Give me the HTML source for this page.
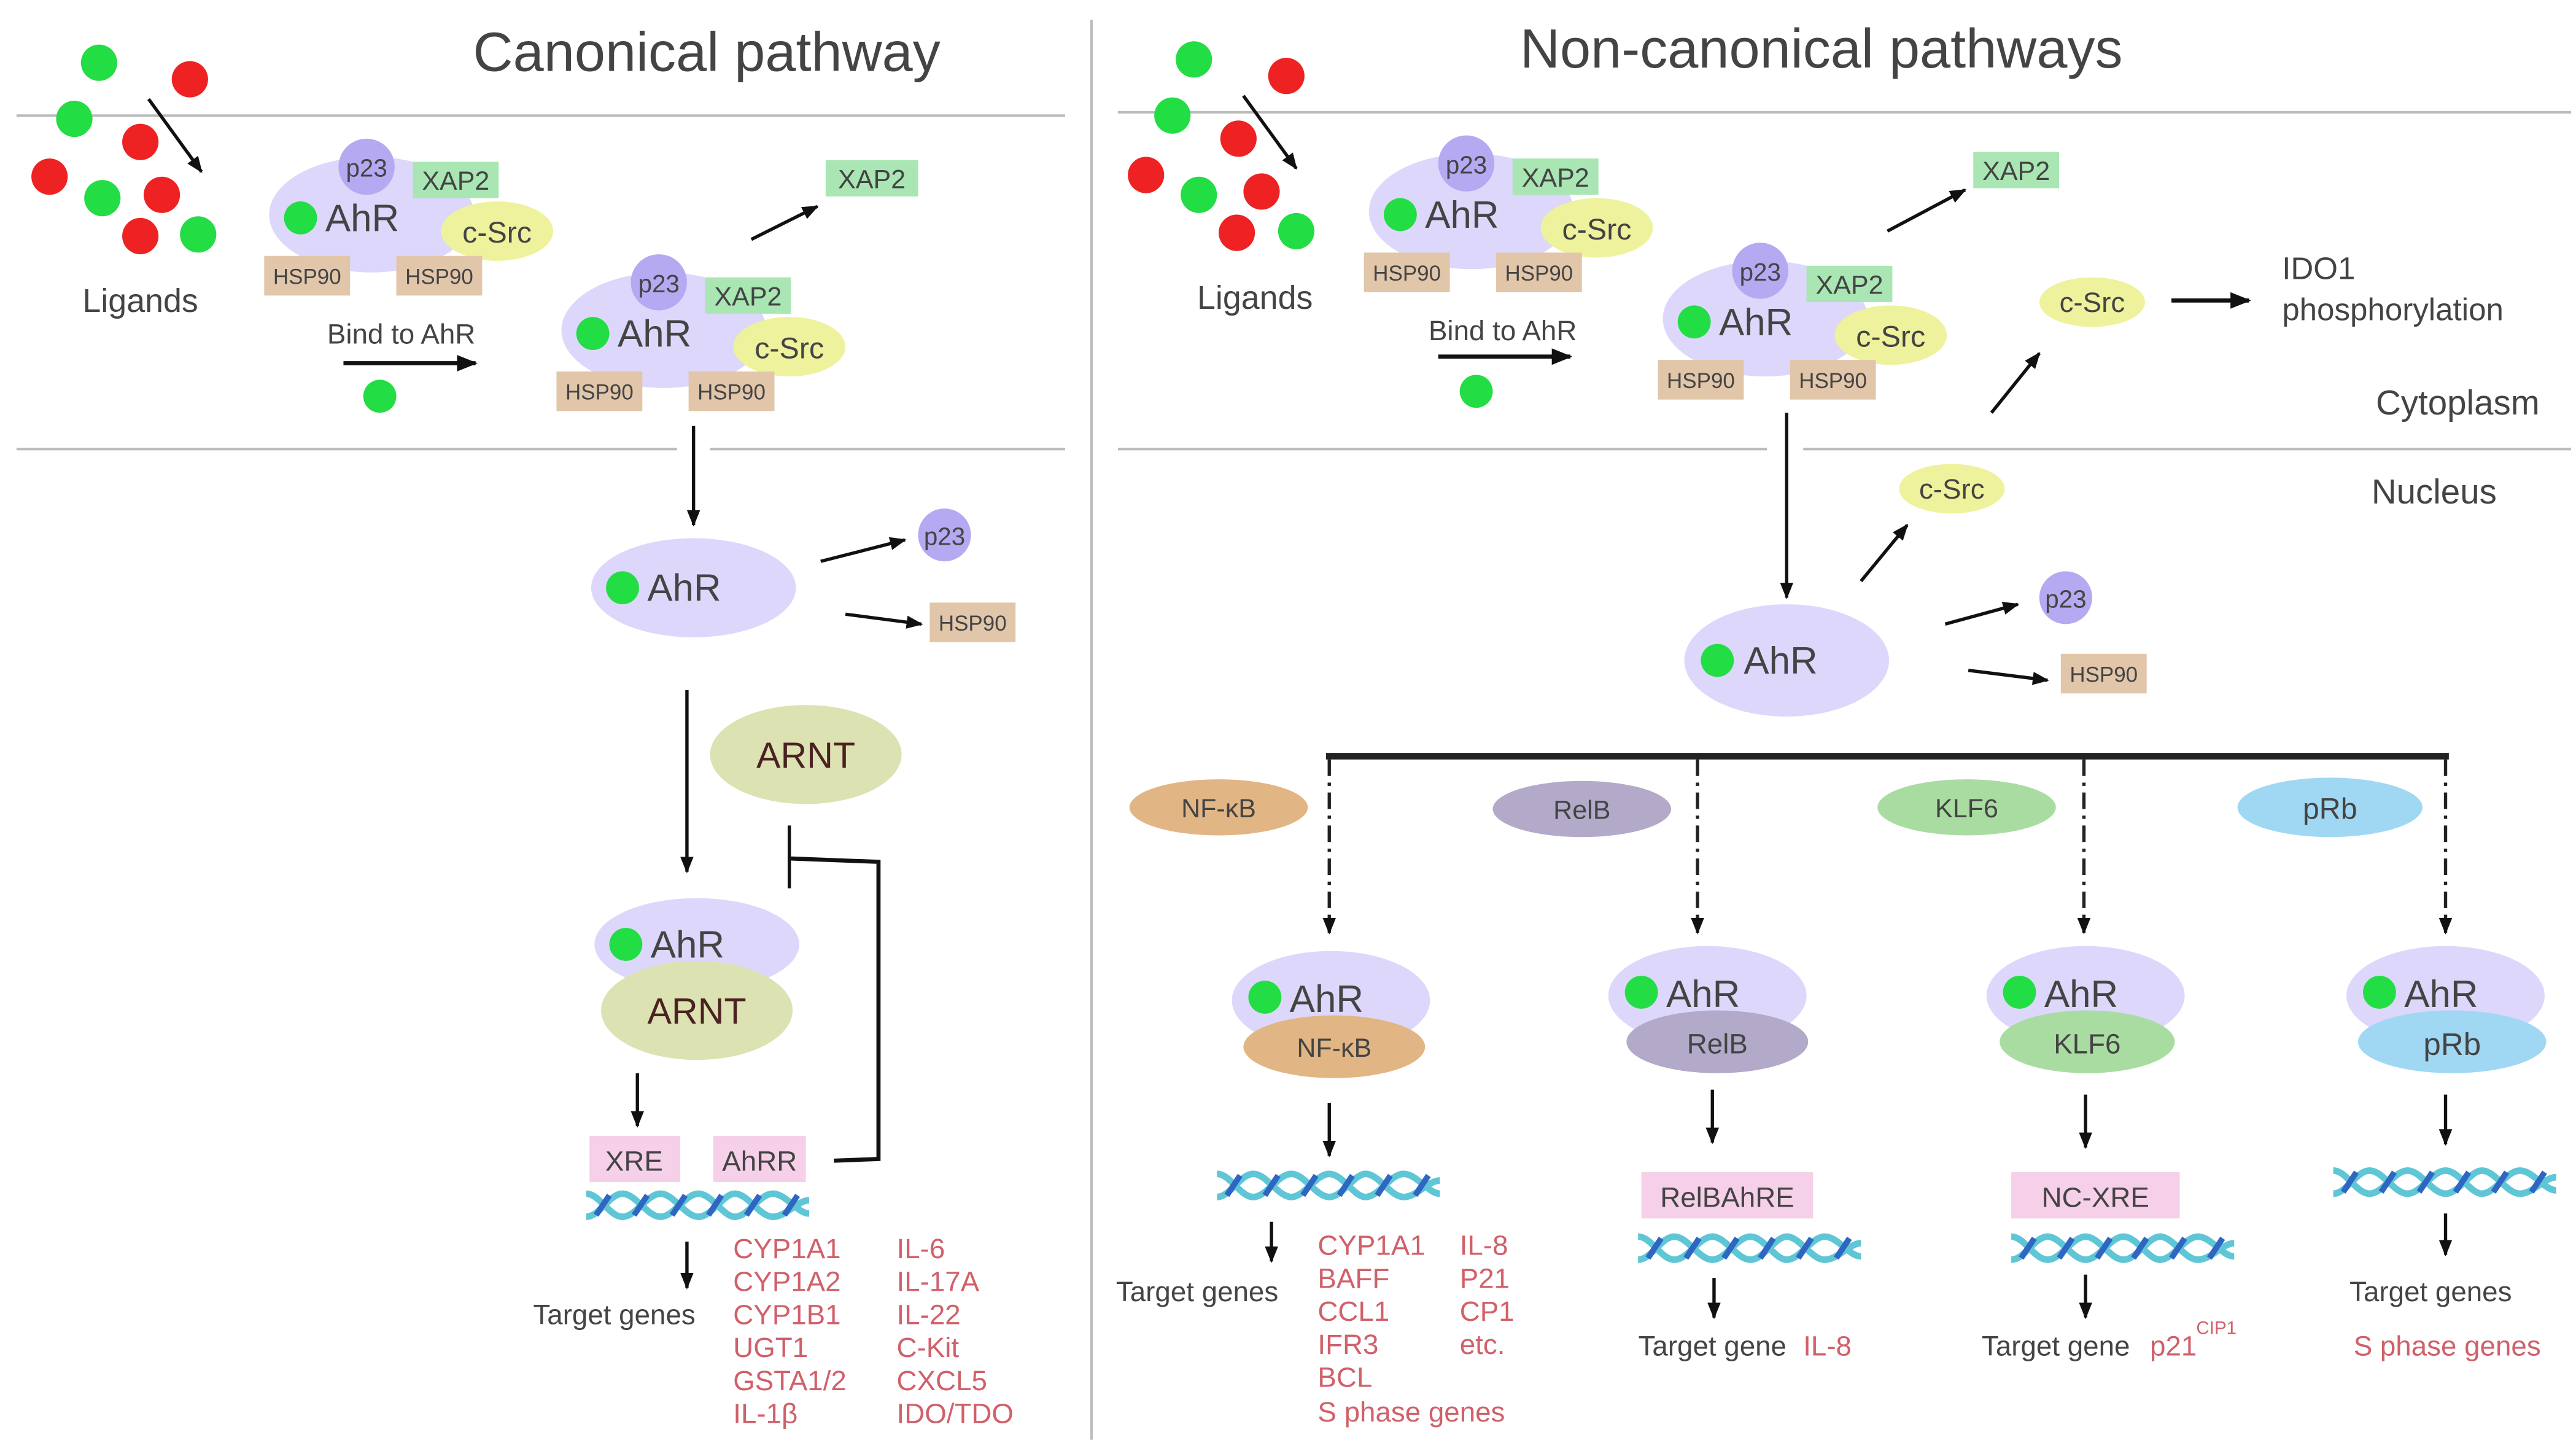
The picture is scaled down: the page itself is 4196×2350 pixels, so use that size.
<!DOCTYPE html>
<html><head><meta charset="utf-8"><style>
html,body{margin:0;padding:0;background:#fff;}
svg{display:block;}
text{font-family:"Liberation Sans",sans-serif;fill:#444;}
.r{fill:#d0606a;font-size:17px;}
</style></head><body>
<svg width="4196" height="2350" viewBox="0 0 1560 874" preserveAspectRatio="none" xmlns="http://www.w3.org/2000/svg">
<defs>
<marker id="a" viewBox="0 0 10 10" refX="9" refY="5" markerWidth="5" markerHeight="5" orient="auto"><path d="M0,1 L10,5 L0,9 z" fill="#111"/></marker>
<g id="dna">
<path d="M0,2 C8,2 14,16 22,16 C30,16 37,2 45,2 C53,2 60,16 68,16 C76,16 83,2 90,2 C98,2 105,16 113,16 C121,16 128,6 135,6" fill="none" stroke="#5fc6d6" stroke-width="4"/>
<path d="M0,16 C8,16 14,2 22,2 C30,2 37,16 45,16 C53,16 60,2 68,2 C76,2 83,16 90,16 C98,16 105,2 113,2 C121,2 128,14 135,14" fill="none" stroke="#5fc6d6" stroke-width="4"/>
<path d="M6,15 L14,3 M29,15 L37,3 M52,15 L60,3 M74,15 L82,3 M97,15 L105,3 M120,15 L128,3" stroke="#2f66c2" stroke-width="3.5"/>
</g>
<g id="cx">
<ellipse cx="0" cy="0" rx="62" ry="35" fill="#dcd7fb"/>
<circle cx="-3" cy="-29" r="17" fill="#b5a9f2"/>
<text x="-3" y="-23" font-size="15" text-anchor="middle">p23</text>
<rect x="25" y="-32" width="52" height="22" fill="#a9e6b3"/>
<text x="51" y="-15" font-size="16" text-anchor="middle">XAP2</text>
<ellipse cx="76" cy="10" rx="34" ry="18" fill="#eef29c"/>
<text x="76" y="17" font-size="18" text-anchor="middle">c-Src</text>
<circle cx="-43" cy="2" r="10" fill="#22dd44"/>
<text x="-28" y="10" font-size="23">AhR</text>
<rect x="-65" y="25" width="52" height="24" fill="#e2c6aa"/>
<text x="-39" y="42" font-size="13" text-anchor="middle">HSP90</text>
<rect x="15" y="25" width="52" height="24" fill="#e2c6aa"/>
<text x="41" y="42" font-size="13" text-anchor="middle">HSP90</text>
</g>
</defs>
<g stroke="#bbb" stroke-width="1.5">
<line x1="10" y1="70" x2="645" y2="70"/><line x1="10" y1="272" x2="410" y2="272"/><line x1="430" y1="272" x2="645" y2="272"/>
<line x1="677" y1="68" x2="1557" y2="68"/><line x1="677" y1="272" x2="1070" y2="272"/><line x1="1092" y1="272" x2="1557" y2="272"/>
<line x1="661" y1="12" x2="661" y2="872"/>
</g>
<text x="428" y="43" font-size="33.5" text-anchor="middle">Canonical pathway</text>
<text x="1103" y="41" font-size="33.5" text-anchor="middle">Non-canonical pathways</text>
<!-- left ligands -->
<g fill="#22dd44"><circle cx="60" cy="38" r="11"/><circle cx="45" cy="72" r="11"/><circle cx="62" cy="120" r="11"/><circle cx="120" cy="142" r="11"/><circle cx="230" cy="240" r="10"/></g>
<g fill="#ee2222"><circle cx="115" cy="48" r="11"/><circle cx="85" cy="86" r="11"/><circle cx="30" cy="107" r="11"/><circle cx="98" cy="118" r="11"/><circle cx="85" cy="143" r="11"/></g>
<line x1="90" y1="60" x2="122" y2="104" stroke="#111" stroke-width="2" marker-end="url(#a)"/>
<text x="85" y="189" font-size="20" text-anchor="middle">Ligands</text>
<use href="#cx" x="225" y="130"/>
<text x="243" y="208" font-size="17" text-anchor="middle">Bind to AhR</text>
<line x1="208" y1="220" x2="288" y2="220" stroke="#111" stroke-width="2.5" marker-end="url(#a)"/>
<use href="#cx" x="402" y="200"/>
<line x1="455" y1="145" x2="495" y2="125" stroke="#111" stroke-width="2" marker-end="url(#a)"/>
<rect x="500" y="97" width="56" height="22" fill="#a9e6b3"/><text x="528" y="114" font-size="16" text-anchor="middle">XAP2</text>
<line x1="420" y1="258" x2="420" y2="318" stroke="#111" stroke-width="2" marker-end="url(#a)"/>
<ellipse cx="420" cy="356" rx="62" ry="30" fill="#dcd7fb"/><circle cx="377" cy="356" r="10" fill="#22dd44"/><text x="392" y="364" font-size="23">AhR</text>
<line x1="497" y1="340" x2="548" y2="327" stroke="#111" stroke-width="2" marker-end="url(#a)"/>
<circle cx="572" cy="324" r="16" fill="#b5a9f2"/><text x="572" y="330" font-size="15" text-anchor="middle">p23</text>
<line x1="512" y1="372" x2="558" y2="378" stroke="#111" stroke-width="2" marker-end="url(#a)"/>
<rect x="563" y="365" width="52" height="24" fill="#e2c6aa"/><text x="589" y="382" font-size="13" text-anchor="middle">HSP90</text>
<line x1="416" y1="418" x2="416" y2="528" stroke="#111" stroke-width="2" marker-end="url(#a)"/>
<ellipse cx="488" cy="457" rx="58" ry="30" fill="#dde2b2"/><text x="488" y="465" font-size="22" text-anchor="middle" style="fill:#4a2222">ARNT</text>
<ellipse cx="422" cy="572" rx="62" ry="28" fill="#dcd7fb"/><circle cx="379" cy="572" r="10" fill="#22dd44"/><text x="394" y="580" font-size="23">AhR</text>
<ellipse cx="422" cy="612" rx="58" ry="30" fill="#dde2b2"/><text x="422" y="620" font-size="22" text-anchor="middle" style="fill:#4a2222">ARNT</text>
<line x1="386" y1="650" x2="386" y2="682" stroke="#111" stroke-width="2" marker-end="url(#a)"/>
<rect x="357" y="688" width="55" height="28" fill="#f5d0e8"/><text x="384" y="709" font-size="17" text-anchor="middle">XRE</text>
<rect x="432" y="688" width="56" height="28" fill="#f5d0e8"/><text x="460" y="709" font-size="17" text-anchor="middle">AhRR</text>
<path d="M505,703 L532,702 L532,522 L479,520" fill="none" stroke="#111" stroke-width="2.5"/>
<line x1="478" y1="500" x2="478" y2="538" stroke="#111" stroke-width="2"/>
<use href="#dna" x="355" y="721"/>
<line x1="416" y1="752" x2="416" y2="780" stroke="#111" stroke-width="2" marker-end="url(#a)"/>
<text x="372" y="802" font-size="17" text-anchor="middle">Target genes</text>
<text x="444" y="762" class="r">CYP1A1</text><text x="444" y="782" class="r">CYP1A2</text><text x="444" y="802" class="r">CYP1B1</text><text x="444" y="822" class="r">UGT1</text><text x="444" y="842" class="r">GSTA1/2</text><text x="444" y="862" class="r">IL-1β</text>
<text x="543" y="762" class="r">IL-6</text><text x="543" y="782" class="r">IL-17A</text><text x="543" y="802" class="r">IL-22</text><text x="543" y="822" class="r">C-Kit</text><text x="543" y="842" class="r">CXCL5</text><text x="543" y="862" class="r">IDO/TDO</text>
<!-- right -->
<g fill="#22dd44"><circle cx="723" cy="36" r="11"/><circle cx="710" cy="70" r="11"/><circle cx="726" cy="118" r="11"/><circle cx="785" cy="140" r="11"/><circle cx="894" cy="237" r="10"/></g>
<g fill="#ee2222"><circle cx="779" cy="46" r="11"/><circle cx="750" cy="84" r="11"/><circle cx="694" cy="106" r="11"/><circle cx="764" cy="116" r="11"/><circle cx="749" cy="141" r="11"/></g>
<line x1="753" y1="58" x2="785" y2="102" stroke="#111" stroke-width="2" marker-end="url(#a)"/>
<text x="760" y="187" font-size="20" text-anchor="middle">Ligands</text>
<use href="#cx" x="891" y="128"/>
<text x="910" y="206" font-size="17" text-anchor="middle">Bind to AhR</text>
<line x1="871" y1="216" x2="951" y2="216" stroke="#111" stroke-width="2.5" marker-end="url(#a)"/>
<use href="#cx" x="1069" y="193"/>
<line x1="1143" y1="140" x2="1190" y2="115" stroke="#111" stroke-width="2" marker-end="url(#a)"/>
<rect x="1195" y="92" width="52" height="22" fill="#a9e6b3"/><text x="1221" y="109" font-size="16" text-anchor="middle">XAP2</text>
<ellipse cx="1267" cy="183" rx="32" ry="15" fill="#eef29c"/><text x="1267" y="189" font-size="17" text-anchor="middle">c-Src</text>
<line x1="1315" y1="182" x2="1362" y2="182" stroke="#111" stroke-width="2.5" marker-end="url(#a)"/>
<text x="1382" y="169" font-size="19">IDO1</text><text x="1382" y="194" font-size="19">phosphorylation</text>
<line x1="1206" y1="250" x2="1235" y2="214" stroke="#111" stroke-width="2" marker-end="url(#a)"/>
<text x="1538" y="251" font-size="21" text-anchor="end">Cytoplasm</text>
<text x="1512" y="305" font-size="21" text-anchor="end">Nucleus</text>
<line x1="1082" y1="250" x2="1082" y2="362" stroke="#111" stroke-width="2" marker-end="url(#a)"/>
<ellipse cx="1182" cy="296" rx="32" ry="15" fill="#eef29c"/><text x="1182" y="302" font-size="17" text-anchor="middle">c-Src</text>
<line x1="1127" y1="352" x2="1155" y2="318" stroke="#111" stroke-width="2" marker-end="url(#a)"/>
<ellipse cx="1082" cy="400" rx="62" ry="34" fill="#dcd7fb"/><circle cx="1040" cy="400" r="10" fill="#22dd44"/><text x="1056" y="408" font-size="23">AhR</text>
<line x1="1178" y1="378" x2="1222" y2="366" stroke="#111" stroke-width="2" marker-end="url(#a)"/>
<circle cx="1251" cy="362" r="16" fill="#b5a9f2"/><text x="1251" y="368" font-size="15" text-anchor="middle">p23</text>
<line x1="1192" y1="406" x2="1240" y2="412" stroke="#111" stroke-width="2" marker-end="url(#a)"/>
<rect x="1248" y="396" width="52" height="24" fill="#e2c6aa"/><text x="1274" y="413" font-size="13" text-anchor="middle">HSP90</text>
<line x1="803" y1="458" x2="1483" y2="458" stroke="#222" stroke-width="4"/>
<g stroke="#222" stroke-width="2" stroke-dasharray="10,4,2,4" marker-end="url(#a)">
<line x1="805" y1="460" x2="805" y2="565"/><line x1="1028" y1="460" x2="1028" y2="565"/><line x1="1262" y1="460" x2="1262" y2="565"/><line x1="1481" y1="460" x2="1481" y2="565"/>
</g>
<ellipse cx="738" cy="489" rx="54" ry="17" fill="#e2b584"/><text x="738" y="495" font-size="16" text-anchor="middle">NF-κB</text>
<ellipse cx="958" cy="490" rx="54" ry="17" fill="#b2aac8"/><text x="958" y="496" font-size="16" text-anchor="middle">RelB</text>
<ellipse cx="1191" cy="489" rx="54" ry="17" fill="#a9dca1"/><text x="1191" y="495" font-size="16" text-anchor="middle">KLF6</text>
<ellipse cx="1411" cy="489" rx="56" ry="18" fill="#a0d8f4"/><text x="1411" y="496" font-size="18" text-anchor="middle">pRb</text>
<ellipse cx="806" cy="606" rx="60" ry="30" fill="#dcd7fb"/><circle cx="766" cy="604" r="10" fill="#22dd44"/><text x="781" y="613" font-size="23">AhR</text>
<ellipse cx="808" cy="634" rx="55" ry="19" fill="#e2b584"/><text x="808" y="640" font-size="16" text-anchor="middle">NF-κB</text>
<ellipse cx="1034" cy="603" rx="60" ry="30" fill="#dcd7fb"/><circle cx="994" cy="601" r="10" fill="#22dd44"/><text x="1009" y="610" font-size="23">AhR</text>
<ellipse cx="1040" cy="631" rx="55" ry="19" fill="#b2aac8"/><text x="1040" y="638" font-size="17" text-anchor="middle">RelB</text>
<ellipse cx="1263" cy="603" rx="60" ry="30" fill="#dcd7fb"/><circle cx="1223" cy="601" r="10" fill="#22dd44"/><text x="1238" y="610" font-size="23">AhR</text>
<ellipse cx="1264" cy="631" rx="53" ry="19" fill="#a9dca1"/><text x="1264" y="638" font-size="17" text-anchor="middle">KLF6</text>
<ellipse cx="1481" cy="603" rx="60" ry="30" fill="#dcd7fb"/><circle cx="1441" cy="601" r="10" fill="#22dd44"/><text x="1456" y="610" font-size="23">AhR</text>
<ellipse cx="1485" cy="631" rx="57" ry="19" fill="#a0d8f4"/><text x="1485" y="639" font-size="19" text-anchor="middle">pRb</text>
<g stroke="#111" stroke-width="2" marker-end="url(#a)">
<line x1="805" y1="668" x2="805" y2="700"/><line x1="1037" y1="660" x2="1037" y2="692"/><line x1="1263" y1="663" x2="1263" y2="695"/><line x1="1481" y1="663" x2="1481" y2="693"/>
<line x1="770" y1="740" x2="770" y2="764"/><line x1="1038" y1="774" x2="1038" y2="798"/><line x1="1263" y1="772" x2="1263" y2="798"/><line x1="1481" y1="735" x2="1481" y2="760"/>
</g>
<use href="#dna" x="737" y="709"/>
<text x="725" y="788" font-size="17" text-anchor="middle">Target genes</text>
<text x="798" y="760" class="r">CYP1A1</text><text x="798" y="780" class="r">BAFF</text><text x="798" y="800" class="r">CCL1</text><text x="798" y="820" class="r">IFR3</text><text x="798" y="840" class="r">BCL</text><text x="798" y="861" class="r">S phase genes</text>
<text x="884" y="760" class="r">IL-8</text><text x="884" y="780" class="r">P21</text><text x="884" y="800" class="r">CP1</text><text x="884" y="820" class="r">etc.</text>
<rect x="994" y="710" width="104" height="28" fill="#f5d0e8"/><text x="1046" y="731" font-size="17" text-anchor="middle">RelBAhRE</text>
<use href="#dna" x="992" y="747"/>
<text x="1037" y="821" font-size="17" text-anchor="middle">Target gene</text><text x="1092" y="821" class="r">IL-8</text>
<rect x="1218" y="710" width="102" height="28" fill="#f5d0e8"/><text x="1269" y="731" font-size="17" text-anchor="middle">NC-XRE</text>
<use href="#dna" x="1218" y="747"/>
<text x="1245" y="821" font-size="17" text-anchor="middle">Target gene</text><text x="1302" y="821" class="r">p21</text><text x="1330" y="808" class="r" style="font-size:11px">CIP1</text>
<use href="#dna" x="1413" y="707"/>
<text x="1472" y="788" font-size="17" text-anchor="middle">Target genes</text>
<text x="1482" y="821" class="r" text-anchor="middle">S phase genes</text>
</svg>
</body></html>
